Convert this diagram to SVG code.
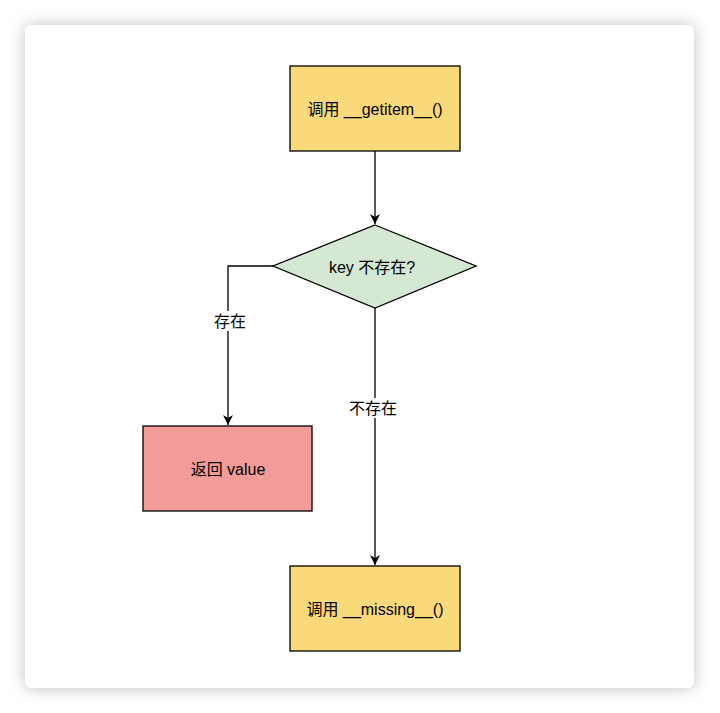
<svg xmlns="http://www.w3.org/2000/svg" width="720" height="713" viewBox="0 0 720 713">
<defs>
<filter id="sh" x="-10%" y="-10%" width="120%" height="120%">
<feDropShadow dx="0" dy="0" stdDeviation="8" flood-color="#000" flood-opacity="0.25"/>
</filter>
<marker id="arr" viewBox="0 0 10 10" refX="10" refY="5" markerWidth="10" markerHeight="10" markerUnits="userSpaceOnUse" orient="auto">
<path d="M0,0 L10,5 L0,10 L3,5 Z" fill="#000"/>
</marker>
<style>
.n{stroke:#000;stroke-width:1.3}
.y{fill:#FAD97A}
.g{fill:#D5E8D4}
.r{fill:#F19C99}
.t{font-family:"Liberation Sans","Noto Sans CJK SC",sans-serif;font-size:16px;fill:#000;text-anchor:middle;dominant-baseline:central}
.e{fill:none;stroke:#000;stroke-width:1.3}
.lb{fill:#fff}
</style>
</defs>
<rect x="0" y="0" width="720" height="713" fill="#fff"/>
<rect x="25" y="25" width="669" height="663" rx="7" fill="#fff" filter="url(#sh)"/>
<g id="connectors">
<path class="e" d="M375,151 L375,224" marker-end="url(#arr)"/>
<path class="e" d="M273,266 L228,266 L228,425" marker-end="url(#arr)"/>
<path class="e" d="M375,308 L375,565" marker-end="url(#arr)"/>
<rect class="lb" x="211" y="311" width="38" height="20"/>
<text class="t" x="230" y="321">存在</text>
<rect class="lb" x="346" y="398" width="56" height="20"/>
<text class="t" x="373" y="408">不存在</text>
</g>
<g id="getitem">
<rect class="n y" x="290" y="66" width="170" height="85"/>
<text class="t" x="375" y="109">调用 __getitem__()</text>
</g>
<g id="decision">
<polygon class="n g" points="375,225 476,266 375,308 273,266"/>
<text class="t" x="372" y="267">key 不存在?</text>
</g>
<g id="return">
<rect class="n r" x="143" y="426" width="169" height="85"/>
<text class="t" x="228" y="469">返回 value</text>
</g>
<g id="missing">
<rect class="n y" x="290" y="566" width="170" height="85"/>
<text class="t" x="375" y="609">调用 __missing__()</text>
</g>
</svg>
